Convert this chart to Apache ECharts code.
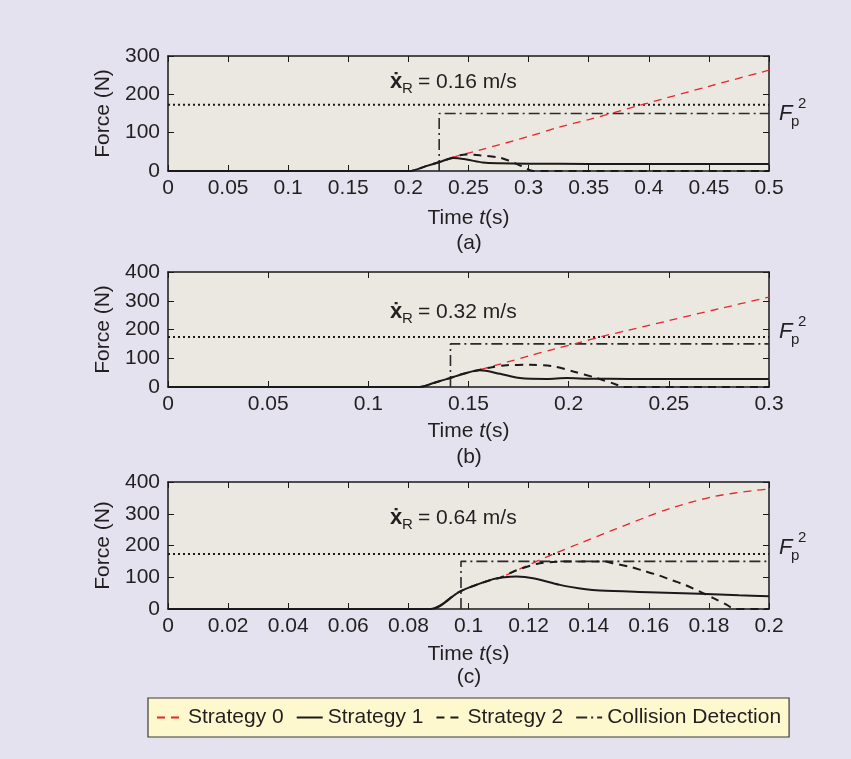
<!DOCTYPE html>
<html>
<head>
<meta charset="utf-8">
<style>
html,body{margin:0;padding:0;background:#ffffff;}
#chart{position:absolute;left:0;top:0;width:851px;height:759px;}
</style>
<script src="https://cdn.jsdelivr.net/npm/echarts@6/dist/echarts.min.js"></script>
</head>
<body>
<div id="chart"></div>
<script>
// ---------------- DATA ----------------
const panelLabels = ['(a)', '(b)', '(c)'];
const speedLabels = ['0.16', '0.32', '0.64'];
const xMax = [0.5, 0.3, 0.2];
const xStep = [0.05, 0.05, 0.02];
const yMax = [300, 400, 400];
const yStep = [100, 100, 100];
const fpLimit = [173, 174, 173];        // dotted F_p^2 level (N)
const detectTime = [0.2256, 0.141, 0.0975]; // collision detection instant (s)
const detectForce = [150, 150, 150];     // collision detection level (N)

// Panel (a)  xR = 0.16 m/s
const s0a = [[0.236,34],[0.2428,41],[0.26,55],[0.3,90],[0.326,115],[0.35,134],[0.392,171],[0.45,221],[0.5,263]];
const s1a = [[0,0],[0.201,0],[0.214,12],[0.226,23.5],[0.2372,34],[0.2484,30],[0.262,22],[0.276,20],[0.3,19],[0.35,18.5],[0.4,18],[0.5,18]];
const s2a = [[0,0],[0.201,0],[0.214,12],[0.226,23.5],[0.236,34],[0.2428,41],[0.2484,43],[0.2594,41],[0.276,35],[0.2844,26],[0.294,13],[0.304,0],[0.5,0]];

// Panel (b)  xR = 0.32 m/s
const s0b = [[0.1557,60],[0.17,88],[0.1806,109],[0.1923,131],[0.2056,155],[0.2156,174],[0.23,198],[0.25,231],[0.275,272],[0.3,313]];
const s1b = [[0,0],[0.1257,0],[0.133,15],[0.1407,31],[0.148,47],[0.1557,58],[0.1657,46],[0.1757,31],[0.189,28],[0.199,31],[0.21,29],[0.23,28],[0.26,28],[0.3,28]];
const s2b = [[0,0],[0.1257,0],[0.133,15],[0.1407,31],[0.148,47],[0.1557,60],[0.161,68],[0.169,76],[0.1806,77],[0.1923,72],[0.2023,54],[0.214,31],[0.224,8],[0.2265,0],[0.3,0]];

// Panel (c)  xR = 0.64 m/s
const s0c = [[0.1082,94],[0.1104,98],[0.1182,131],[0.1282,173],[0.1371,207],[0.1482,249],[0.1593,290],[0.1681,320],[0.1815,354],[0.1948,373],[0.2,378]];
const s1c = [[0,0],[0.0875,0],[0.0971,55],[0.1082,94],[0.112,100],[0.116,102],[0.1215,97],[0.1304,76],[0.139,62],[0.1437,58],[0.16,53],[0.177,48],[0.19,43],[0.2,40]];
const s2c = [[0,0],[0.0875,0],[0.0971,55],[0.1082,94],[0.1104,98],[0.116,122],[0.1227,142],[0.128,148],[0.135,150],[0.1448,150],[0.148,144],[0.1537,133],[0.158,121],[0.163,107],[0.1676,91],[0.172,76],[0.177,55],[0.1815,34],[0.186,13],[0.1885,0],[0.2,0]];

const strat0 = [s0a, s0b, s0c];
const strat1 = [s1a, s1b, s1c];
const strat2 = [s2a, s2b, s2c];

// ---------------- STYLE ----------------
const FONT = '"Liberation Sans", Arial, Helvetica, sans-serif';
const TXT = '#231f20';
const grids = [
  {left:168, top:56, width:601, height:115},
  {left:168, top:272, width:601, height:115},
  {left:168, top:482, width:601, height:127}
];
const timeNameGap = [37, 34, 35];

const xAxes = [], yAxes = [], series = [], graphics = [];

grids.forEach((g, i) => {
  xAxes.push({
    type:'value', gridIndex:i, min:0, max:xMax[i], interval:xStep[i], position:'bottom',
    axisLine:{show:true, onZero:false, lineStyle:{color:'#1a1a1a', width:1.5}},
    axisTick:{show:true, inside:true, length:6, lineStyle:{color:'#1a1a1a', width:1}},
    axisLabel:{show:true, color:TXT, fontFamily:FONT, fontSize:21, margin:7},
    splitLine:{show:false},
    name:'{n|Time }{i|t}{n|(s)}', nameLocation:'middle', nameGap:timeNameGap[i],
    nameTextStyle:{rich:{
      n:{fontFamily:FONT, fontSize:21, color:TXT},
      i:{fontFamily:FONT, fontSize:21, color:TXT, fontStyle:'italic'}
    }}
  });
  xAxes.push({
    type:'value', gridIndex:i, min:0, max:xMax[i], interval:xStep[i], position:'top',
    axisLine:{show:true, onZero:false, lineStyle:{color:'#1a1a1a', width:1.5}},
    axisTick:{show:true, inside:true, length:6, lineStyle:{color:'#1a1a1a', width:1}},
    axisLabel:{show:false}, splitLine:{show:false}
  });
  yAxes.push({
    type:'value', gridIndex:i, min:0, max:yMax[i], interval:yStep[i], position:'left',
    axisLine:{show:true, onZero:false, lineStyle:{color:'#1a1a1a', width:1.5}},
    axisTick:{show:true, inside:true, length:6, lineStyle:{color:'#1a1a1a', width:1}},
    axisLabel:{show:true, color:TXT, fontFamily:FONT, fontSize:21, margin:8},
    splitLine:{show:false},
    name:'Force (N)', nameLocation:'middle', nameGap:54,
    nameTextStyle:{fontFamily:FONT, fontSize:21, color:TXT}
  });
  yAxes.push({
    type:'value', gridIndex:i, min:0, max:yMax[i], interval:yStep[i], position:'right',
    axisLine:{show:true, onZero:false, lineStyle:{color:'#1a1a1a', width:1.5}},
    axisTick:{show:true, inside:true, length:6, lineStyle:{color:'#1a1a1a', width:1}},
    axisLabel:{show:false}, splitLine:{show:false}
  });

  const xi = 2*i, yi = 2*i;
  series.push({
    name:'Fp2', type:'line', xAxisIndex:xi, yAxisIndex:yi, symbol:'none', silent:true,
    data:[[0, fpLimit[i]], [xMax[i], fpLimit[i]]],
    lineStyle:{color:'#1a1a1a', width:2, type:[2,3]}, z:3
  });
  series.push({
    name:'Collision Detection', type:'line', xAxisIndex:xi, yAxisIndex:yi, symbol:'none',
    data:[[detectTime[i], 0], [detectTime[i], detectForce[i]], [xMax[i], detectForce[i]]],
    lineStyle:{color:'#2a2a2a', width:1.6, type:[11,4,2,4]}, itemStyle:{color:'#2a2a2a'}, z:3
  });
  series.push({
    name:'Strategy 0', type:'line', xAxisIndex:xi, yAxisIndex:yi, symbol:'none', smooth:0.3,
    data:strat0[i], lineStyle:{color:'#e8262c', width:1.3, type:[8,6]}, itemStyle:{color:'#e8262c'}, z:4
  });
  series.push({
    name:'Strategy 2', type:'line', xAxisIndex:xi, yAxisIndex:yi, symbol:'none', smooth:0.3,
    data:strat2[i], lineStyle:{color:'#1a1a1a', width:2, type:[8,6]}, itemStyle:{color:'#1a1a1a'}, z:5
  });
  series.push({
    name:'Strategy 1', type:'line', xAxisIndex:xi, yAxisIndex:yi, symbol:'none', smooth:0.3,
    data:strat1[i], lineStyle:{color:'#1a1a1a', width:2}, itemStyle:{color:'#1a1a1a'}, z:6
  });
});

const speedY = [82, 312, 518];
const fpY = [114, 332, 548];
const capY = [243, 457, 677];
speedY.forEach((y, i) => {
  graphics.push({type:'text', x:390, y:y, style:{text:'x\u0307', fontFamily:FONT, fontSize:22, fontWeight:'bold', fill:TXT, verticalAlign:'middle'}});
  graphics.push({type:'text', x:402, y:y+7, style:{text:'R', fontFamily:FONT, fontSize:15, fill:TXT, verticalAlign:'middle'}});
  graphics.push({type:'text', x:418, y:y, style:{text:'= ' + speedLabels[i] + ' m/s', fontFamily:FONT, fontSize:21, fill:TXT, verticalAlign:'middle'}});
  graphics.push({type:'text', x:779, y:fpY[i], style:{text:'F', fontFamily:FONT, fontSize:22, fontStyle:'italic', fill:TXT, verticalAlign:'middle'}});
  graphics.push({type:'text', x:791, y:fpY[i]+8, style:{text:'p', fontFamily:FONT, fontSize:15, fill:TXT, verticalAlign:'middle'}});
  graphics.push({type:'text', x:798, y:fpY[i]-10, style:{text:'2', fontFamily:FONT, fontSize:15, fill:TXT, verticalAlign:'middle'}});
  graphics.push({type:'text', x:469, y:capY[i], style:{text:panelLabels[i], fontFamily:FONT, fontSize:21, fill:TXT, align:'center', verticalAlign:'middle'}});
});

const chart = echarts.init(document.getElementById('chart'), null, {renderer:'canvas'});
chart.setOption({
  animation:false,
  backgroundColor:'#e4e2ef',
  grid: grids.map(g => Object.assign({show:true, backgroundColor:'#ebe7e1', borderWidth:0}, g)),
  xAxis: xAxes,
  yAxis: yAxes,
  legend:{
    data:['Strategy 0','Strategy 1','Strategy 2','Collision Detection'],
    left:148, top:698, orient:'horizontal',
    backgroundColor:'#fdf8cd', borderColor:'#3a3a3a', borderWidth:1.2,
    padding:[9,8,9,8], itemGap:12, itemWidth:26, itemHeight:14,
    textStyle:{fontFamily:FONT, fontSize:21, color:TXT},
    itemStyle:{opacity:0, borderWidth:0, color:'transparent'}
  },
  graphic: graphics,
  series: series
});
</script>
</body>
</html>
